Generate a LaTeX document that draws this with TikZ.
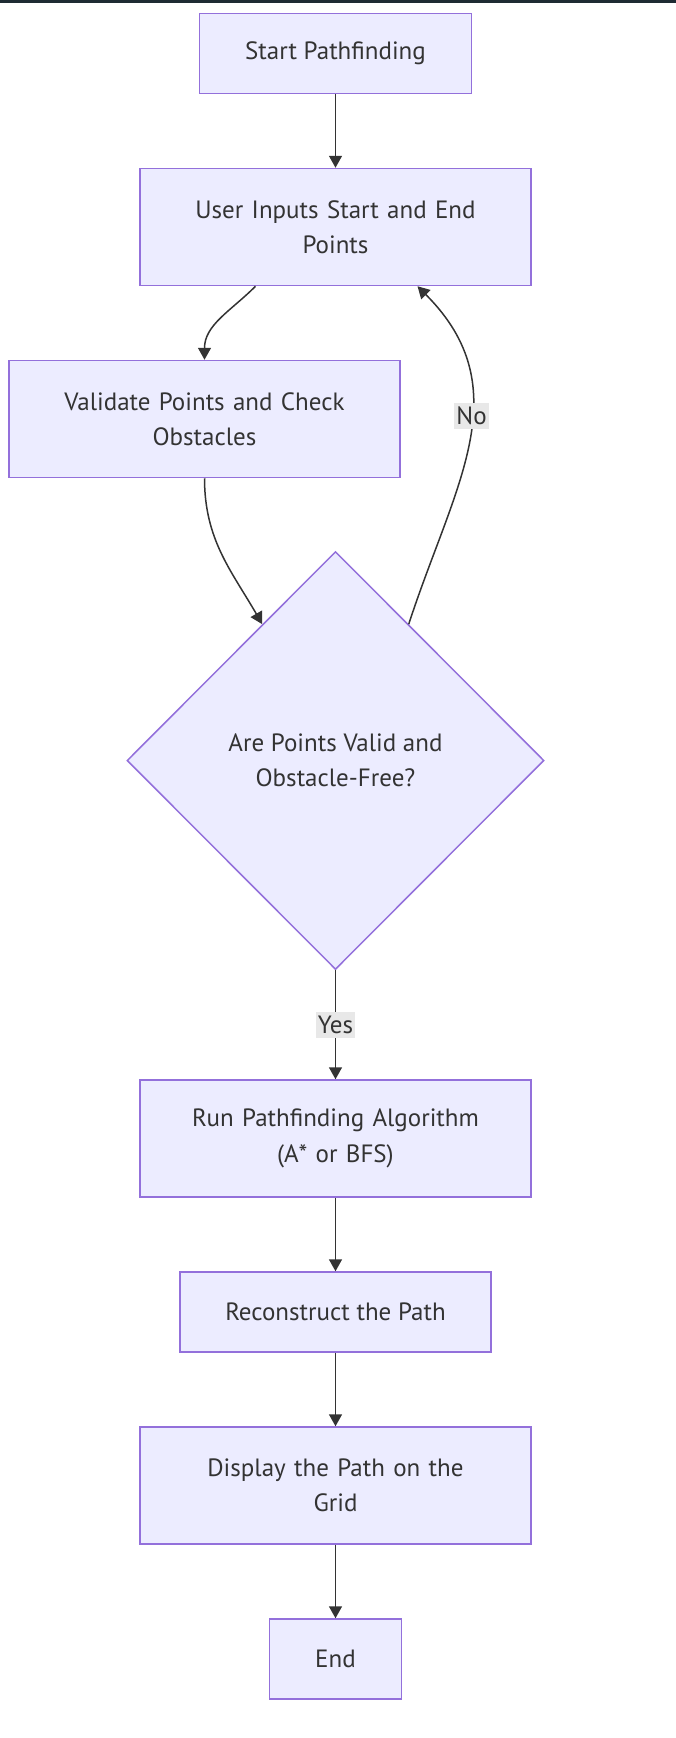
\documentclass[tikz,border=0pt]{standalone}
\usepackage{fontspec}
\setmainfont{PT Sans}
\usetikzlibrary{shapes.geometric, arrows.meta, positioning, calc}

\definecolor{boxfill}{HTML}{ECECFF}
\definecolor{boxline}{HTML}{9370DB}
\definecolor{linkcol}{HTML}{333333}
\definecolor{lblfill}{HTML}{E8E8E8}
\definecolor{topbar}{HTML}{1E2B33}

\begin{document}
\begin{tikzpicture}[
 x=1pt, y=1pt,
 every node/.style={font=\fontsize{25}{35.5}\selectfont, text=linkcol},
 box/.style={rectangle, draw=boxline, line width=1.5pt, fill=boxfill, align=center, inner xsep=45.5pt, inner ysep=0pt, minimum height=80pt},
 wrapbox/.style={box, text width=300pt, minimum height=117pt},
 decision/.style={diamond, draw=boxline, line width=1.5pt, fill=boxfill, align=center, aspect=1, inner sep=0pt, minimum width=417pt, minimum height=418pt},
 lbl/.style={fill=lblfill, inner xsep=2pt, inner ysep=4pt},
 arrow/.style={-{Triangle[length=12pt, width=13pt]}, line width=1.5pt, draw=linkcol}
]
\useasboundingbox (0,0) rectangle (676,-1738);
\fill[topbar] (0,0) rectangle (676,-2.5);

\node[box] (start) at (335.5,-53.5) {Start Pathfinding};
\node[wrapbox, below=73.5pt of start] (user) {User Inputs Start and End\\Points};
\node[wrapbox, below=73.5pt of user, xshift=-131pt] (valid) {Validate Points and Check\\Obstacles};
\node[decision, below=264.5pt of user] (dec) {Are Points Valid and\\Obstacle-Free?};
\node[wrapbox, below=109pt of dec] (run) {Run Pathfinding Algorithm\\(A* or BFS)};
\node[box, below=73.5pt of run] (recon) {Reconstruct the Path};
\node[wrapbox, below=73.5pt of recon] (display) {Display the Path on the\\Grid};
\node[box, below=73.5pt of display] (end) {End};

\draw[arrow] (start) -- (user);
\draw[arrow] ([xshift=-80pt]user.south) to[out=-135, in=90] (valid.north);
\draw[arrow] (valid.south) to[out=-90, in=120] ($(dec.north)!0.35!(dec.west)$);
\draw[arrow] ($(dec.north)!0.35!(dec.east)$) to[out=72, in=-45, looseness=1.1] node[lbl, pos=0.58] {No} ([xshift=82pt]user.south);
\draw[arrow] (dec) -- node[lbl] {Yes} (run);
\draw[arrow] (run) -- (recon);
\draw[arrow] (recon) -- (display);
\draw[arrow] (display) -- (end);
\end{tikzpicture}
\end{document}
